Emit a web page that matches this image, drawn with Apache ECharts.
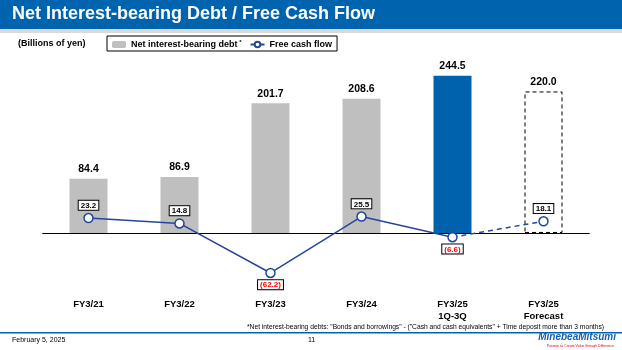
<!DOCTYPE html>
<html>
<head>
<meta charset="utf-8">
<script src="https://cdn.jsdelivr.net/npm/echarts@6/dist/echarts.min.js"></script>
<style>
  html, body { margin: 0; padding: 0; background: #fff; }
  #main { width: 622px; height: 350px; }
</style>
</head>
<body>
<div id="main"></div>
<script>
var categories = ['FY3/21', 'FY3/22', 'FY3/23', 'FY3/24', 'FY3/25\n1Q-3Q', 'FY3/25\nForecast'];
var debt = [84.4, 86.9, 201.7, 208.6, 244.5, 220.0];
var fcf = [23.2, 14.8, -62.2, 25.5, -6.6, 18.1];

var ARIAL = 'Arial, "Liberation Sans", sans-serif';
var lineColor = '#25479a';

// bars: last actual is blue, forecast is a dashed box
var debtData = debt.map(function (v, i) {
  if (i == 4) return { value: v, itemStyle: { color: '#0062ad' } };
  if (i == 5) return { value: v, itemStyle: { color: '#fff', borderColor: '#000', borderWidth: 1, borderType: [4, 3] } };
  return v;
});

function fcfLabel(v) {
  var neg = v < 0;
  return {
    show: true,
    position: neg ? 'bottom' : 'top',
    distance: neg ? 2 : 3,
    formatter: neg ? '(' + Math.abs(v).toFixed(1) + ')' : v.toFixed(1),
    color: neg ? '#ff0000' : '#000',
    fontFamily: ARIAL,
    fontWeight: 'bold',
    fontSize: 8,
    backgroundColor: '#fff',
    borderColor: '#000',
    borderWidth: 1,
    padding: [1, 2, 0, 2]
  };
}

var solidData = fcf.map(function (v, i) {
  if (i == fcf.length - 1) return '-';
  return { value: v, label: fcfLabel(v) };
});
var dashData = fcf.map(function (v, i) {
  if (i < fcf.length - 2) return '-';
  if (i == fcf.length - 2) return { value: v, symbol: 'none' };
  return { value: v, label: fcfLabel(v) };
});

var myChart = echarts.init(document.getElementById('main'));
var option = {
  animation: false,
  textStyle: { fontFamily: ARIAL },
  grid: { left: 43, right: 33, top: 40, bottom: 54, containLabel: false, outerBoundsMode: 'none' },
  legend: {
    left: 107, top: 36,
    data: ['Net interest-bearing debt', 'Free cash flow'],
    borderColor: '#000', borderWidth: 1, borderRadius: 0,
    padding: [3, 5, 2, 5],
    itemGap: 8, itemWidth: 14, itemHeight: 7,
    formatter: function (name) {
      return name == 'Net interest-bearing debt' ? name + '{sup| *}' : name;
    },
    textStyle: {
      fontFamily: ARIAL, fontWeight: 'bold', fontSize: 9, color: '#000',
      rich: { sup: { fontSize: 6, verticalAlign: 'top', color: '#000', padding: [0, 0, 5, 0] } }
    }
  },
  xAxis: [{
    // category labels along the bottom of the plot
    type: 'category',
    data: categories,
    axisLine: { show: false, onZero: false },
    axisTick: { show: false },
    axisLabel: { margin: 2, color: '#000', fontFamily: ARIAL, fontWeight: 'bold', fontSize: 9.5, lineHeight: 12 }
  }, {
    // zero line, ticks below
    type: 'category',
    data: categories,
    position: 'bottom',
    axisLine: { onZero: true, onZeroAxisIndex: 0, lineStyle: { color: '#000', width: 1.2 } },
    axisTick: { length: 3, lineStyle: { color: '#000' } },
    axisLabel: { show: false }
  }, {
    // ticks above the zero line
    type: 'category',
    data: categories,
    position: 'bottom',
    axisLine: { onZero: true, onZeroAxisIndex: 1, lineStyle: { color: '#000', width: 1.2 } },
    axisTick: { inside: true, length: 3, lineStyle: { color: '#000' } },
    axisLabel: { show: false }
  }],
  yAxis: [
    { type: 'value', min: -98, max: 300, show: false, splitLine: { show: false } },
    { type: 'value', min: -98, max: 300, show: false, splitLine: { show: false } }
  ],
  series: [{
    name: 'Net interest-bearing debt',
    type: 'bar',
    barWidth: 38,
    itemStyle: { color: '#bfbfbf' },
    label: { show: true, position: 'top', distance: 4, color: '#000', fontFamily: ARIAL, fontWeight: 'bold', fontSize: 10.5,
      formatter: function (p) { return p.value.toFixed(1); } },
    data: debtData
  }, {
    name: 'Free cash flow',
    type: 'line',
    symbol: 'circle',
    symbolSize: 9,
    itemStyle: { color: '#fff', borderColor: lineColor, borderWidth: 1.5 },
    lineStyle: { color: lineColor, width: 1.5 },
    z: 5,
    data: solidData
  }, {
    name: 'fcf-forecast',
    type: 'line',
    symbol: 'circle',
    symbolSize: 9,
    itemStyle: { color: '#fff', borderColor: lineColor, borderWidth: 1.5 },
    lineStyle: { color: lineColor, width: 1.5, type: [5, 4] },
    z: 4,
    data: dashData
  }],
  graphic: [
    { type: 'rect', left: 0, top: 0, shape: { width: 622, height: 29 }, style: { fill: '#0063ae' } },
    { type: 'rect', left: 0, top: 29, shape: { width: 622, height: 4 }, style: { fill: '#d9d9d9' } },
    { type: 'text', left: 12, top: 5, style: { text: 'Net Interest-bearing Debt / Free Cash Flow', fill: '#fff', font: 'bold 18px ' + ARIAL } },
    { type: 'text', left: 18, top: 39, style: { text: '(Billions of yen)', fill: '#000', font: 'bold 9px ' + ARIAL } },
    { type: 'text', right: 18, top: 324, style: { text: '*Net interest-bearing debts: "Bonds and borrowings" - ("Cash and cash equivalents" + Time deposit more than 3 months)', fill: '#000', font: '6.7px ' + ARIAL } },
    { type: 'rect', left: 0, top: 332, shape: { width: 622, height: 1.5 }, style: { fill: '#0063ae' } },
    { type: 'text', left: 12, top: 337, style: { text: 'February 5, 2025', fill: '#000', font: '7px ' + ARIAL } },
    { type: 'text', left: 308, top: 337, style: { text: '11', fill: '#000', font: '7px ' + ARIAL } },
    { type: 'text', right: 6, top: 332, style: { text: 'MinebeaMitsumi', fill: '#1560b0', font: 'italic bold 10px ' + ARIAL } },
    { type: 'text', right: 8, top: 344, style: { text: 'Passion to Create Value through Difference', fill: '#d9001b', font: '3.5px ' + ARIAL } }
  ]
};
myChart.setOption(option);
window.onresize = function () { myChart.resize(); };
</script>
</body>
</html>
